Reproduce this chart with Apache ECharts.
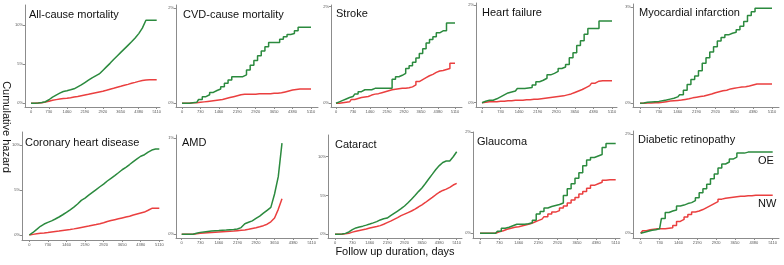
<!DOCTYPE html>
<html>
<head>
<meta charset="utf-8">
<script src="https://cdn.jsdelivr.net/npm/echarts@6/dist/echarts.min.js"></script>
<style>
html, body { margin: 0; padding: 0; background: #fff; }
#main { width: 784px; height: 265px; }
</style>
</head>
<body>
<div id="main"></div>
<script>
const days = [0, 146, 292, 438, 584, 730, 876, 1022, 1168, 1314, 1460, 1606, 1752, 1898, 2044, 2190, 2336, 2482,
    2628, 2774, 2920, 3066, 3212, 3358, 3504, 3650, 3796, 3942, 4088, 4234, 4380, 4526, 4672, 4818, 4964, 5110];
const xTicks = [0, 730, 1460, 2190, 2920, 3650, 4380, 5110];

const titles = ['All-cause mortality', 'CVD-cause mortality', 'Stroke', 'Heart failure', 'Myocardial infarction',
    'Coronary heart disease', 'AMD', 'Cataract', 'Glaucoma', 'Diabetic retinopathy'];
const yTicks = [[0, 5, 10], [0, 2], [0, 2], [0, 2], [0, 3], [0, 5, 10], [0, 1], [0, 5, 10], [0, 2], [0, 2]];

// cumulative hazard, %  (OE = green, NW = red)
const allCauseOE = [0, 0.02, 0.05, 0.1, 0.2, 0.45, 0.8, 1.05, 1.3, 1.5, 1.6, 1.72, 1.85, 2.1, 2.35, 2.65, 2.95, 3.25, 3.5, 3.75, 4.2, 4.65, 5.1, 5.6, 6.05, 6.5, 6.95, 7.4, 7.85, 8.35, 8.9, 9.6, 10.6, 10.6, 10.6, 10.6];
const allCauseNW = [0, 0.02, 0.05, 0.08, 0.15, 0.25, 0.38, 0.47, 0.55, 0.6, 0.65, 0.72, 0.8, 0.88, 0.97, 1.06, 1.15, 1.25, 1.35, 1.45, 1.55, 1.67, 1.8, 1.92, 2.05, 2.17, 2.3, 2.42, 2.55, 2.67, 2.8, 2.92, 2.98, 3.0, 3.0, 3.0];
const cvdOE = [0, 0, 0, 0.01, 0.02, 0.08, 0.14, 0.18, 0.23, 0.27, 0.3, 0.35, 0.42, 0.49, 0.56, 0.56, 0.56, 0.6, 0.7, 0.8, 0.9, 1.0, 1.1, 1.19, 1.28, 1.28, 1.28, 1.35, 1.4, 1.45, 1.47, 1.53, 1.6, 1.6, 1.6, 1.6];
const cvdNW = [0, 0, 0, 0.01, 0.01, 0.02, 0.03, 0.04, 0.05, 0.06, 0.07, 0.08, 0.1, 0.12, 0.14, 0.16, 0.18, 0.19, 0.19, 0.19, 0.19, 0.2, 0.2, 0.2, 0.2, 0.21, 0.21, 0.22, 0.24, 0.26, 0.28, 0.29, 0.3, 0.3, 0.3, 0.3];
const strokeOE = [0, 0.03, 0.06, 0.09, 0.12, 0.14, 0.19, 0.24, 0.28, 0.28, 0.28, 0.31, 0.31, 0.31, 0.31, 0.31, 0.31, 0.5, 0.55, 0.58, 0.62, 0.72, 0.78, 0.85, 0.94, 1.03, 1.13, 1.25, 1.32, 1.38, 1.46, 1.5, 1.5, 1.66, 1.66, 1.66];
const strokeNW = [0, 0, 0.01, 0.02, 0.03, 0.08, 0.1, 0.12, 0.13, 0.14, 0.17, 0.19, 0.2, 0.22, 0.24, 0.26, 0.28, 0.29, 0.3, 0.31, 0.31, 0.32, 0.34, 0.38, 0.45, 0.49, 0.53, 0.57, 0.6, 0.64, 0.67, 0.68, 0.7, 0.72, 0.83, 0.83];
const hfOE = [0, 0.03, 0.05, 0.05, 0.08, 0.12, 0.16, 0.2, 0.22, 0.24, 0.29, 0.29, 0.3, 0.31, 0.36, 0.43, 0.46, 0.5, 0.57, 0.6, 0.64, 0.7, 0.73, 0.78, 0.92, 1.02, 1.17, 1.27, 1.4, 1.52, 1.52, 1.52, 1.67, 1.67, 1.67, 1.67];
const hfNW = [0, 0.01, 0.02, 0.02, 0.02, 0.03, 0.03, 0.04, 0.04, 0.05, 0.05, 0.05, 0.06, 0.06, 0.07, 0.07, 0.08, 0.09, 0.1, 0.11, 0.12, 0.13, 0.14, 0.16, 0.18, 0.21, 0.24, 0.27, 0.31, 0.35, 0.4, 0.44, 0.45, 0.45, 0.45, 0.45];
const miOE = [0, 0.01, 0.03, 0.04, 0.05, 0.06, 0.08, 0.1, 0.13, 0.16, 0.2, 0.27, 0.41, 0.59, 0.74, 0.85, 1.02, 1.25, 1.42, 1.6, 1.77, 1.95, 2.06, 2.14, 2.19, 2.22, 2.3, 2.41, 2.56, 2.74, 2.86, 2.97, 2.97, 2.97, 2.97, 2.97];
const miNW = [0, 0, 0.01, 0.01, 0.02, 0.02, 0.03, 0.05, 0.07, 0.08, 0.09, 0.1, 0.12, 0.14, 0.17, 0.19, 0.21, 0.23, 0.26, 0.29, 0.33, 0.36, 0.39, 0.41, 0.45, 0.47, 0.49, 0.51, 0.52, 0.54, 0.57, 0.6, 0.6, 0.6, 0.6, 0.6];
const chdOE = [0, 0.28, 0.62, 0.97, 1.22, 1.4, 1.57, 1.78, 2.0, 2.25, 2.52, 2.8, 3.1, 3.45, 3.85, 4.1, 4.43, 4.74, 5.05, 5.36, 5.65, 6.0, 6.3, 6.6, 6.92, 7.25, 7.52, 7.83, 8.15, 8.45, 8.75, 8.92, 9.2, 9.44, 9.55, 9.55];
const chdNW = [0, 0.07, 0.13, 0.19, 0.23, 0.28, 0.34, 0.39, 0.44, 0.5, 0.56, 0.61, 0.68, 0.76, 0.84, 0.92, 1.0, 1.09, 1.16, 1.25, 1.37, 1.5, 1.6, 1.7, 1.8, 1.9, 1.99, 2.08, 2.22, 2.33, 2.44, 2.55, 2.75, 2.96, 2.96, 2.96];
const amdOE = [0, 0, 0, 0, 0.01, 0.02, 0.025, 0.03, 0.035, 0.038, 0.04, 0.043, 0.045, 0.048, 0.05, 0.055, 0.07, 0.11, 0.125, 0.14, 0.165, 0.19, 0.22, 0.25, 0.28, 0.42, 0.6, 0.95];
const amdNW = [0, 0, 0, 0, 0.005, 0.01, 0.013, 0.016, 0.019, 0.022, 0.024, 0.026, 0.028, 0.031, 0.034, 0.038, 0.042, 0.046, 0.052, 0.06, 0.068, 0.078, 0.09, 0.105, 0.13, 0.17, 0.26, 0.37];
const cataractOE = [0, 0, 0.05, 0.12, 0.3, 0.6, 0.82, 0.95, 1.05, 1.18, 1.32, 1.47, 1.63, 1.85, 2.0, 2.1, 2.4, 2.7, 3.0, 3.3, 3.65, 4.07, 4.52, 5.0, 5.5, 5.96, 6.55, 7.16, 7.75, 8.35, 8.85, 9.25, 9.44, 9.44, 10.0, 10.64];
const cataractNW = [0, 0, 0.02, 0.06, 0.12, 0.28, 0.4, 0.5, 0.59, 0.68, 0.8, 0.9, 1.0, 1.12, 1.3, 1.5, 1.7, 1.93, 2.15, 2.4, 2.6, 2.8, 3.0, 3.25, 3.52, 3.8, 4.1, 4.43, 4.75, 5.1, 5.42, 5.65, 5.82, 6.05, 6.35, 6.57];
const glaucomaOE = [0, 0, 0, 0, 0, 0.04, 0.1, 0.12, 0.15, 0.18, 0.18, 0.18, 0.19, 0.21, 0.26, 0.38, 0.43, 0.5, 0.53, 0.55, 0.57, 0.6, 0.75, 0.88, 0.98, 1.09, 1.2, 1.34, 1.45, 1.5, 1.53, 1.56, 1.7, 1.78, 1.78, 1.78];
const glaucomaNW = [0, 0, 0, 0, 0, 0.03, 0.05, 0.08, 0.1, 0.12, 0.13, 0.15, 0.17, 0.19, 0.22, 0.25, 0.28, 0.33, 0.38, 0.42, 0.45, 0.5, 0.54, 0.6, 0.66, 0.71, 0.78, 0.83, 0.89, 0.95, 0.98, 1.01, 1.05, 1.06, 1.06, 1.06];
const drOE = [0, 0.02, 0.04, 0.06, 0.07, 0.09, 0.3, 0.42, 0.45, 0.47, 0.55, 0.57, 0.6, 0.62, 0.66, 0.72, 0.82, 0.9, 0.99, 1.1, 1.2, 1.32, 1.4, 1.44, 1.5, 1.54, 1.62, 1.62, 1.64, 1.64, 1.64, 1.64, 1.64, 1.64, 1.64, 1.64];
const drNW = [0, 0.05, 0.07, 0.08, 0.09, 0.09, 0.09, 0.1, 0.11, 0.16, 0.24, 0.28, 0.33, 0.38, 0.43, 0.45, 0.48, 0.52, 0.56, 0.6, 0.64, 0.69, 0.71, 0.72, 0.73, 0.74, 0.75, 0.75, 0.76, 0.76, 0.77, 0.77, 0.77, 0.77, 0.77, 0.77];

const oeSeries = [allCauseOE, cvdOE, strokeOE, hfOE, miOE, chdOE, amdOE, cataractOE, glaucomaOE, drOE];
const nwSeries = [allCauseNW, cvdNW, strokeNW, hfNW, miNW, chdNW, amdNW, cataractNW, glaucomaNW, drNW];

// panel boxes (axis line extents) and where day 0 / 5110 and 0% / top tick sit, px
const boxes = [
    { l: 25, r: 160, t: 5, b: 107, x0: 31, x1: 156.7, y0: 103.3, y1: 25 },
    { l: 176, r: 318, t: 5, b: 107, x0: 182, x1: 311, y0: 103.3, y1: 8.3 },
    { l: 331, r: 462, t: 5, b: 107, x0: 336, x1: 455, y0: 103.3, y1: 6.7 },
    { l: 476, r: 617, t: 3, b: 107, x0: 482, x1: 612, y0: 102.7, y1: 5 },
    { l: 633, r: 779, t: 4, b: 107, x0: 640, x1: 772, y0: 103.3, y1: 7.3 },
    { l: 22, r: 163, t: 132, b: 240, x0: 29.3, x1: 159.3, y0: 235, y1: 145 },
    { l: 176, r: 318, t: 135, b: 238, x0: 181.7, x1: 311.7, y0: 234.3, y1: 138.3 },
    { l: 328, r: 462, t: 135, b: 238, x0: 335, x1: 456.7, y0: 234.3, y1: 156.7 },
    { l: 473, r: 620, t: 132, b: 238, x0: 480, x1: 615.7, y0: 233.3, y1: 132.3 },
    { l: 633, r: 779, t: 131, b: 238, x0: 640.7, x1: 772.7, y0: 233.3, y1: 134.3 }
];
const titlePos = [[29, 15], [183, 15], [336, 14], [482, 13], [639, 13], [25, 143], [182, 143], [335, 145], [477, 142], [638, 140]];
// curves with many small events look smooth, the rest show clear steps
const stepped = [false, 'middle', 'middle', 'middle', 'middle', false, false, false, 'middle', 'middle'];

const GREEN = '#2b8a3e';
const RED = '#ea3f3f';
const AXIS = '#8c8c8c';
const FONT = '"Liberation Sans", Arial, sans-serif';

var myChart = echarts.init(document.getElementById('main'));

const grid = [], xAxis = [], yAxis = [], series = [], graphic = [];

boxes.forEach((bx, i) => {
    const top = yTicks[i][yTicks[i].length - 1];
    const sx = 5110 / (bx.x1 - bx.x0);
    const sy = top / (bx.y0 - bx.y1);

    grid.push({ left: bx.l, top: bx.t, width: bx.r - bx.l, height: bx.b - bx.t, outerBoundsMode: 'none' });

    xAxis.push({
        gridIndex: i,
        type: 'value',
        min: -(bx.x0 - bx.l) * sx,
        max: 5110 + (bx.r - bx.x1) * sx,
        axisLine: { show: true, onZero: false, lineStyle: { color: AXIS, width: 1 } },
        axisTick: { show: true, customValues: xTicks, length: 2, lineStyle: { color: AXIS } },
        axisLabel: {
            customValues: xTicks, fontSize: 4, color: '#555', margin: 3, fontFamily: FONT,
            formatter: v => String(v)
        },
        splitLine: { show: false }
    });

    yAxis.push({
        gridIndex: i,
        type: 'value',
        min: -(bx.b - bx.y0) * sy,
        max: top + (bx.y1 - bx.t) * sy,
        axisLine: { show: true, onZero: false, lineStyle: { color: AXIS, width: 1 } },
        axisTick: { show: true, customValues: yTicks[i], length: 2, lineStyle: { color: AXIS } },
        axisLabel: { customValues: yTicks[i], formatter: '{value}%', fontSize: 4, color: '#555', margin: 2, fontFamily: FONT },
        splitLine: { show: false }
    });

    series.push({
        type: 'line',
        xAxisIndex: i,
        yAxisIndex: i,
        step: stepped[i],
        showSymbol: false,
        lineStyle: { color: RED, width: 1.5 },
        data: nwSeries[i].map((v, k) => [days[k], v])
    });
    series.push({
        type: 'line',
        xAxisIndex: i,
        yAxisIndex: i,
        step: stepped[i],
        showSymbol: false,
        lineStyle: { color: GREEN, width: 1.5 },
        data: oeSeries[i].map((v, k) => [days[k], v])
    });

    graphic.push({
        type: 'text',
        x: titlePos[i][0],
        y: titlePos[i][1],
        style: { text: titles[i], font: '11px ' + FONT, fill: '#111', verticalAlign: 'middle' }
    });
});

graphic.push(
    { type: 'text', x: 758, y: 161, style: { text: 'OE', font: '11px ' + FONT, fill: '#111', verticalAlign: 'middle' } },
    { type: 'text', x: 758, y: 204, style: { text: 'NW', font: '11px ' + FONT, fill: '#111', verticalAlign: 'middle' } },
    { type: 'text', x: 6, y: 127, rotation: -Math.PI / 2,
      style: { text: 'Cumulative hazard', font: '11px ' + FONT, fill: '#111', align: 'center', verticalAlign: 'middle' } },
    { type: 'text', x: 395, y: 252,
      style: { text: 'Follow up duration, days', font: '11px ' + FONT, fill: '#111', align: 'center', verticalAlign: 'middle' } }
);

const option = {
    animation: false,
    grid: grid,
    xAxis: xAxis,
    yAxis: yAxis,
    series: series,
    graphic: graphic
};

myChart.setOption(option);
</script>
</body>
</html>
